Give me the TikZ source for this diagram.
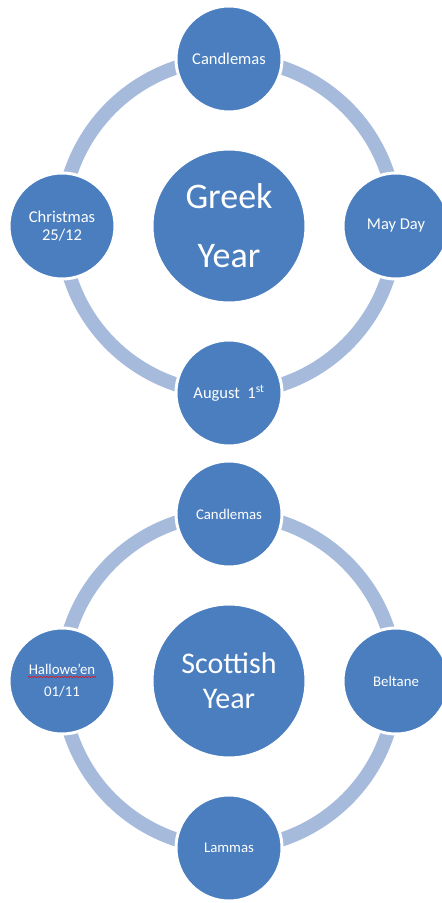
\documentclass[tikz,border=0pt]{standalone}
\usepackage{fontspec}
\setmainfont{Carlito}
\usetikzlibrary{decorations.pathmorphing}
\definecolor{discblue}{HTML}{4A7EBF}
\definecolor{ringblue}{HTML}{A6BADC}
\begin{document}
\begin{tikzpicture}[x=1pt,y=1pt,
  ring/.style={draw=ringblue,line width=14pt},
  disc/.style={circle,fill=discblue,draw=white,line width=3pt,text=white,
    inner sep=0pt,align=center},
  smalldisc/.style={disc,minimum size=106pt},
  bigdisc/.style={disc,minimum size=154pt},
  topsmall/.style={font=\fontsize{16.5}{18.5}\selectfont},
  topbig/.style={font=\fontsize{36}{59}\selectfont},
  lowsmall/.style={font=\fontsize{14.8}{22}\selectfont},
  lowbig/.style={font=\fontsize{30}{35}\selectfont}]
\useasboundingbox (0,0) rectangle (442,903);
\fill[white] (0,0) rectangle (442,903);

% Greek year cycle
\coordinate (gc) at (229,677);
\draw[ring] (gc) circle[radius=167];
\node[bigdisc,topbig] (greek) at (gc) {Greek\\Year};
\node[smalldisc,topsmall] (gcand) at (229,844) {Candlemas};
\node[smalldisc,topsmall] (gmay) at (396,677) {May Day};
\node[smalldisc,topsmall] (gaug) at (229,510) {August\ \ 1\textsuperscript{st}};
\node[smalldisc,topsmall] (gxmas) at (62,677) {Christmas\\25/12};

% Scottish year cycle
\coordinate (sc) at (229,222);
\draw[ring] (sc) circle[radius=167];
\node[bigdisc,lowbig] (scot) at (sc) {Scottish\\Year};
\node[smalldisc,lowsmall] (scand) at (229,389) {Candlemas};
\node[smalldisc,lowsmall] (sbel) at (396,222) {Beltane};
\node[smalldisc,lowsmall] (slam) at (229,55) {Lammas};
\node[smalldisc,lowsmall] (shal) at (62,222) {Hallowe\char"0027 en\\01/11};
\draw[red,line width=0.6pt,decorate,
  decoration={snake,amplitude=0.5pt,segment length=3pt}]
  ([xshift=-34pt,yshift=4pt]shal.center) -- ([xshift=34pt,yshift=4pt]shal.center);
\end{tikzpicture}
\end{document}
